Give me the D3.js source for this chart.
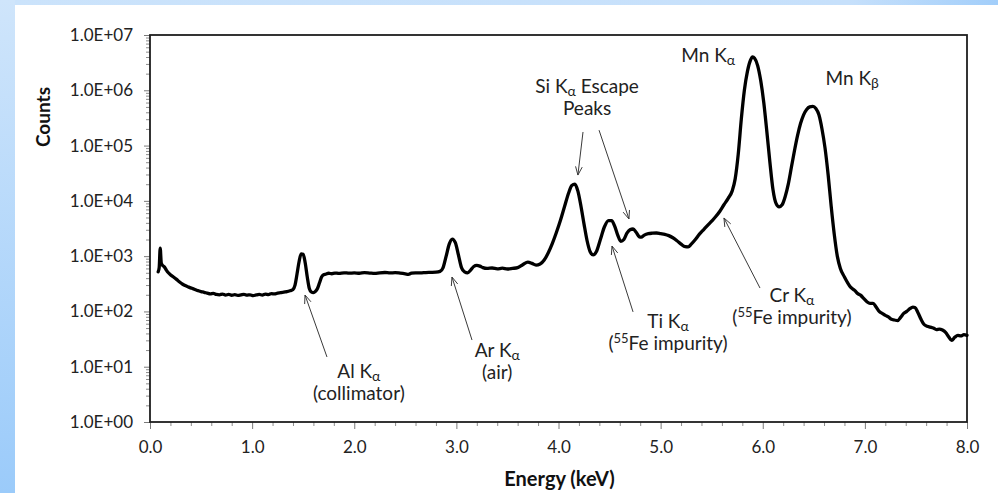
<!DOCTYPE html>
<html>
<head>
<meta charset="utf-8">
<script src="https://cdn.jsdelivr.net/npm/d3@7"></script>
<style>
  html, body { margin: 0; padding: 0; background: #fff; }
  svg { display: block; }
  text { font-family: Lato, "Open Sans", sans-serif; }
</style>
</head>
<body>
<svg id="chart" width="998" height="493"></svg>
<script>
// Spectrum: energy (keV) and detector counts
const energy = [
  0.08, 0.09, 0.10, 0.11, 0.12, 0.14, 0.16, 0.18, 0.20, 0.23, 0.26, 0.29, 0.32, 0.35, 0.38, 0.41, 0.44, 0.47,
  0.50, 0.53, 0.56, 0.59, 0.62, 0.65, 0.68, 0.71, 0.74, 0.77, 0.80, 0.83, 0.86, 0.89, 0.92, 0.95, 0.98,
  1.01, 1.04, 1.07, 1.10, 1.13, 1.16, 1.19, 1.22, 1.25, 1.28, 1.31, 1.34, 1.37, 1.40, 1.42, 1.44, 1.46,
  1.48, 1.50, 1.52, 1.54, 1.56, 1.58, 1.60, 1.62, 1.64, 1.66, 1.68, 1.70, 1.72, 1.75, 1.78, 1.81, 1.85,
  1.90, 1.95, 2.00, 2.05, 2.10, 2.15, 2.20, 2.25, 2.30, 2.35, 2.40, 2.45, 2.50, 2.53, 2.56, 2.60, 2.65,
  2.70, 2.75, 2.80, 2.84, 2.87, 2.90, 2.93, 2.96, 2.99, 3.02, 3.05, 3.08, 3.11, 3.14, 3.17, 3.20, 3.23,
  3.26, 3.30, 3.35, 3.40, 3.45, 3.50, 3.55, 3.60, 3.65, 3.70, 3.74, 3.78, 3.82, 3.86, 3.90, 3.94, 3.98,
  4.02, 4.06, 4.10, 4.13, 4.16, 4.19, 4.22, 4.25, 4.28, 4.31, 4.34, 4.37, 4.41, 4.45, 4.49, 4.52, 4.55,
  4.58, 4.61, 4.64, 4.67, 4.70, 4.73, 4.76, 4.79, 4.81, 4.84, 4.88, 4.92, 4.96, 5.00, 5.04, 5.08, 5.12,
  5.16, 5.20, 5.24, 5.27, 5.30, 5.34, 5.38, 5.42, 5.46, 5.50, 5.54, 5.58, 5.62, 5.66, 5.70, 5.73, 5.76,
  5.79, 5.82, 5.85, 5.88, 5.90, 5.92, 5.95, 5.98, 6.01, 6.04, 6.07, 6.10, 6.13, 6.16, 6.19, 6.22, 6.25,
  6.28, 6.31, 6.34, 6.37, 6.40, 6.43, 6.46, 6.49, 6.52, 6.55, 6.58, 6.61, 6.64, 6.67, 6.70, 6.73, 6.76,
  6.80, 6.86, 6.90, 6.93, 6.96, 6.99, 7.02, 7.05, 7.08, 7.11, 7.14, 7.17, 7.20, 7.23, 7.26, 7.29, 7.32,
  7.35, 7.38, 7.41, 7.44, 7.47, 7.49, 7.52, 7.55, 7.58, 7.61, 7.64, 7.67, 7.70, 7.73, 7.76, 7.79, 7.82,
  7.85, 7.88, 7.91, 7.94, 7.97, 8.00
];
const counts = [
  520, 620, 1400, 760, 690, 640, 560, 500, 460, 420, 380, 340, 310, 290, 275, 262, 250, 238,
  228, 222, 214, 208, 212, 203, 200, 206, 198, 203, 196, 201, 195, 199, 204, 197, 200,
  193, 199, 203, 198, 206, 202, 210, 207, 215, 218, 224, 228, 236, 250, 300, 480, 800,
  1100, 1080, 750, 420, 260, 225, 218, 230, 260, 330, 420, 460, 470, 490, 480, 495, 487,
  500, 492, 498, 490, 502, 495, 488, 500, 506, 497, 503, 492, 478, 468, 492, 500, 497,
  505, 508, 512, 530, 620, 1000, 1650, 2040, 1750, 1050, 620, 520, 500, 560, 650, 680, 660,
  620, 600, 610, 590, 605, 585, 600, 620, 700, 780, 740, 690, 720, 850, 1150, 1700, 2700,
  4500, 8000, 14000, 19000, 20000, 15000, 8000, 3800, 1900, 1200, 1050, 1200, 2000, 3400, 4400, 4400, 3500,
  2400, 1850, 2000, 2600, 3000, 3100, 2700, 2250, 2200, 2400, 2550, 2600, 2620, 2550, 2480, 2350, 2150,
  1900, 1650, 1480, 1470, 1650, 2000, 2500, 3000, 3600, 4300, 5200, 6500, 8500, 11000, 15000, 25000, 70000,
  300000, 1000000, 2200000, 3500000, 4000000, 3800000, 2800000, 1500000, 600000, 180000, 50000, 16000, 9000, 7800, 8500, 12000, 20000,
  40000, 80000, 150000, 250000, 360000, 450000, 500000, 510000, 470000, 360000, 200000, 90000, 30000, 8000, 2500, 1000, 600,
  420, 275, 240, 210, 195, 170, 150, 140, 140, 120, 100, 92, 85, 80, 72, 70, 68,
  78, 92, 100, 112, 120, 118, 95, 72, 58, 54, 52, 50, 47, 48, 46, 42, 35,
  30, 34, 37, 36, 38, 37
];

// Axis ticks and labels
const xTicks = [0, 1, 2, 3, 4, 5, 6, 7, 8];
const xTickLabels = ["0.0", "1.0", "2.0", "3.0", "4.0", "5.0", "6.0", "7.0", "8.0"];
const yTicks = [1, 10, 100, 1e3, 1e4, 1e5, 1e6, 1e7];
const yTickLabels = ["1.0E+00", "1.0E+01", "1.0E+02", "1.0E+03", "1.0E+04", "1.0E+05", "1.0E+06", "1.0E+07"];

// Peak annotations: label anchor (energy, counts) and arrow from/to (energy, counts).
// Text pieces: {t} plain, {sub} subscript, {sup} superscript.
const annotations = [
  { lines: [[{ t: "Mn K" }, { sub: "α" }]], at: [5.465, 3.2e6] },
  { lines: [[{ t: "Mn K" }, { sub: "β" }]], at: [6.875, 1.25e6] },
  { lines: [[{ t: "Si K" }, { sub: "α" }, { t: " Escape" }], [{ t: "Peaks" }]], at: [4.28, 8.9e5],
    arrows: [[[4.24, 1.76e5], [4.19, 2.93e4]], [[4.397, 1.9e5], [4.69, 4.7e3]]] },
  { lines: [[{ t: "Al K" }, { sub: "α" }], [{ t: "(collimator)" }]], at: [2.045, 6.25],
    arrows: [[[1.733, 15], [1.518, 198]]] },
  { lines: [[{ t: "Ar K" }, { sub: "α" }], [{ t: "(air)" }]], at: [3.40, 15],
    arrows: [[[3.153, 30.4], [2.957, 419]]] },
  { lines: [[{ t: "Ti K" }, { sub: "α" }], [{ t: "(" }, { sup: "55" }, { t: "Fe impurity)" }]], at: [5.072, 50],
    arrows: [[[4.73, 98], [4.524, 1525]]] },
  { lines: [[{ t: "Cr K" }, { sub: "α" }], [{ t: "(" }, { sup: "55" }, { t: "Fe impurity)" }]], at: [6.286, 148],
    arrows: [[[5.973, 265], [5.62, 4900]]] }
];

const W = 998, H = 493;
const plot = { left: 150, right: 967, top: 35, bottom: 422 };

const svg = d3.select("#chart");

// Page backdrop: pale blue frame with a white sheet
const defs = svg.append("defs");
const gLeft = defs.append("linearGradient").attr("id", "frameLeft")
  .attr("x1", 0).attr("y1", 0).attr("x2", 0).attr("y2", 1);
gLeft.append("stop").attr("offset", "0%").attr("stop-color", "#cfe5fb");
gLeft.append("stop").attr("offset", "100%").attr("stop-color", "#9bcbfa");
const gTop = defs.append("linearGradient").attr("id", "frameTop")
  .attr("x1", 0).attr("y1", 0).attr("x2", 1).attr("y2", 0);
gTop.append("stop").attr("offset", "0%").attr("stop-color", "#cbe3fb");
gTop.append("stop").attr("offset", "85%").attr("stop-color", "#c6e0fb");
gTop.append("stop").attr("offset", "100%").attr("stop-color", "#a2cefa");

svg.append("rect").attr("x", 0).attr("y", 0).attr("width", W).attr("height", 5).attr("fill", "url(#frameTop)");
svg.append("rect").attr("x", 0).attr("y", 0).attr("width", 15).attr("height", H).attr("fill", "url(#frameLeft)");
svg.append("rect").attr("x", 15).attr("y", 5).attr("width", W - 15).attr("height", H - 5).attr("fill", "#ffffff");

const x = d3.scaleLinear().domain([0, 8]).range([plot.left, plot.right]);
const y = d3.scaleLog().domain([1, 1e7]).range([plot.bottom, plot.top]);

// Minor tick positions
const xMinor = d3.range(0, 8.001, 0.2).filter(v => Math.abs(v - Math.round(v)) > 1e-6);
const yMinor = [];
for (let p = 0; p < 7; p++) for (let m = 2; m <= 9; m++) yMinor.push(m * Math.pow(10, p));

function styleAxis(g, color) {
  g.select(".domain").remove();
  g.selectAll(".tick line").attr("stroke", color).attr("stroke-width", 1);
}

// Y axis
const yMinorG = svg.append("g").attr("transform", `translate(${plot.left},0)`)
  .call(d3.axisLeft(y).tickValues(yMinor).tickSize(4).tickFormat(""));
styleAxis(yMinorG, "#8c8c8c");
const yMajorG = svg.append("g").attr("transform", `translate(${plot.left},0)`)
  .call(d3.axisLeft(y).tickValues(yTicks).tickSize(6).tickPadding(11)
    .tickFormat((d, i) => yTickLabels[i]));
styleAxis(yMajorG, "#7a7a7a");
yMajorG.selectAll(".tick text").attr("fill", "#222").style("font-size", "17px");

// X axis
const xMinorG = svg.append("g").attr("transform", `translate(0,${plot.bottom})`)
  .call(d3.axisBottom(x).tickValues(xMinor).tickSize(4).tickFormat(""));
styleAxis(xMinorG, "#8c8c8c");
const xMajorG = svg.append("g").attr("transform", `translate(0,${plot.bottom})`)
  .call(d3.axisBottom(x).tickValues(xTicks).tickSize(7).tickPadding(12)
    .tickFormat((d, i) => xTickLabels[i]));
styleAxis(xMajorG, "#7a7a7a");
xMajorG.selectAll(".tick text").attr("fill", "#222").style("font-size", "17px");

// Plot frame
svg.append("rect")
  .attr("x", plot.left).attr("y", plot.top)
  .attr("width", plot.right - plot.left).attr("height", plot.bottom - plot.top)
  .attr("fill", "none").attr("stroke", "#1e1e1e").attr("stroke-width", 1.8);

// Axis titles
svg.append("text")
  .attr("transform", `translate(50,${117}) rotate(-90)`)
  .attr("text-anchor", "middle")
  .attr("fill", "#111").style("font-size", "19px").style("font-weight", "bold")
  .text("Counts");
svg.append("text")
  .attr("x", (plot.left + plot.right) / 2 + 1).attr("y", 486)
  .attr("text-anchor", "middle")
  .attr("fill", "#111").style("font-size", "20px").style("font-weight", "bold")
  .text("Energy (keV)");

// Spectrum line
const spectrum = energy.map((e, i) => ({ e, c: counts[i] }));
svg.append("path")
  .datum(spectrum)
  .attr("fill", "none")
  .attr("stroke", "#000")
  .attr("stroke-width", 3.3)
  .attr("stroke-linejoin", "round")
  .attr("stroke-linecap", "round")
  .attr("d", d3.line().x(d => x(d.e)).y(d => y(d.c)).curve(d3.curveMonotoneX));

// Annotations
const ann = svg.append("g");
annotations.forEach(a => {
  const cx = x(a.at[0]), cy = y(a.at[1]);
  a.lines.forEach((parts, li) => {
    const t = ann.append("text")
      .attr("x", cx).attr("y", cy + li * 22)
      .attr("text-anchor", "middle")
      .attr("fill", "#222").style("font-size", "19px");
    let shift = 0; // current baseline offset
    parts.forEach(p => {
      let target = 0, size = null, txt = p.t;
      if (p.sub) { target = 3; size = "14px"; txt = p.sub; }
      if (p.sup) { target = -7; size = "13px"; txt = p.sup; }
      const ts = t.append("tspan").attr("dy", target - shift).text(txt);
      if (size) ts.style("font-size", size);
      shift = target;
    });
  });
  (a.arrows || []).forEach(([from, to]) => {
    const x1 = x(from[0]), y1 = y(from[1]), x2 = x(to[0]), y2 = y(to[1]);
    ann.append("line").attr("x1", x1).attr("y1", y1).attr("x2", x2).attr("y2", y2)
      .attr("stroke", "#3a3a3a").attr("stroke-width", 1);
    const ang = Math.atan2(y2 - y1, x2 - x1), len = 9, spread = 0.38;
    const hx1 = x2 - len * Math.cos(ang - spread), hy1 = y2 - len * Math.sin(ang - spread);
    const hx2 = x2 - len * Math.cos(ang + spread), hy2 = y2 - len * Math.sin(ang + spread);
    ann.append("path")
      .attr("d", `M${hx1},${hy1}L${x2},${y2}L${hx2},${hy2}`)
      .attr("fill", "none").attr("stroke", "#3a3a3a").attr("stroke-width", 1);
  });
});
</script>
</body>
</html>
